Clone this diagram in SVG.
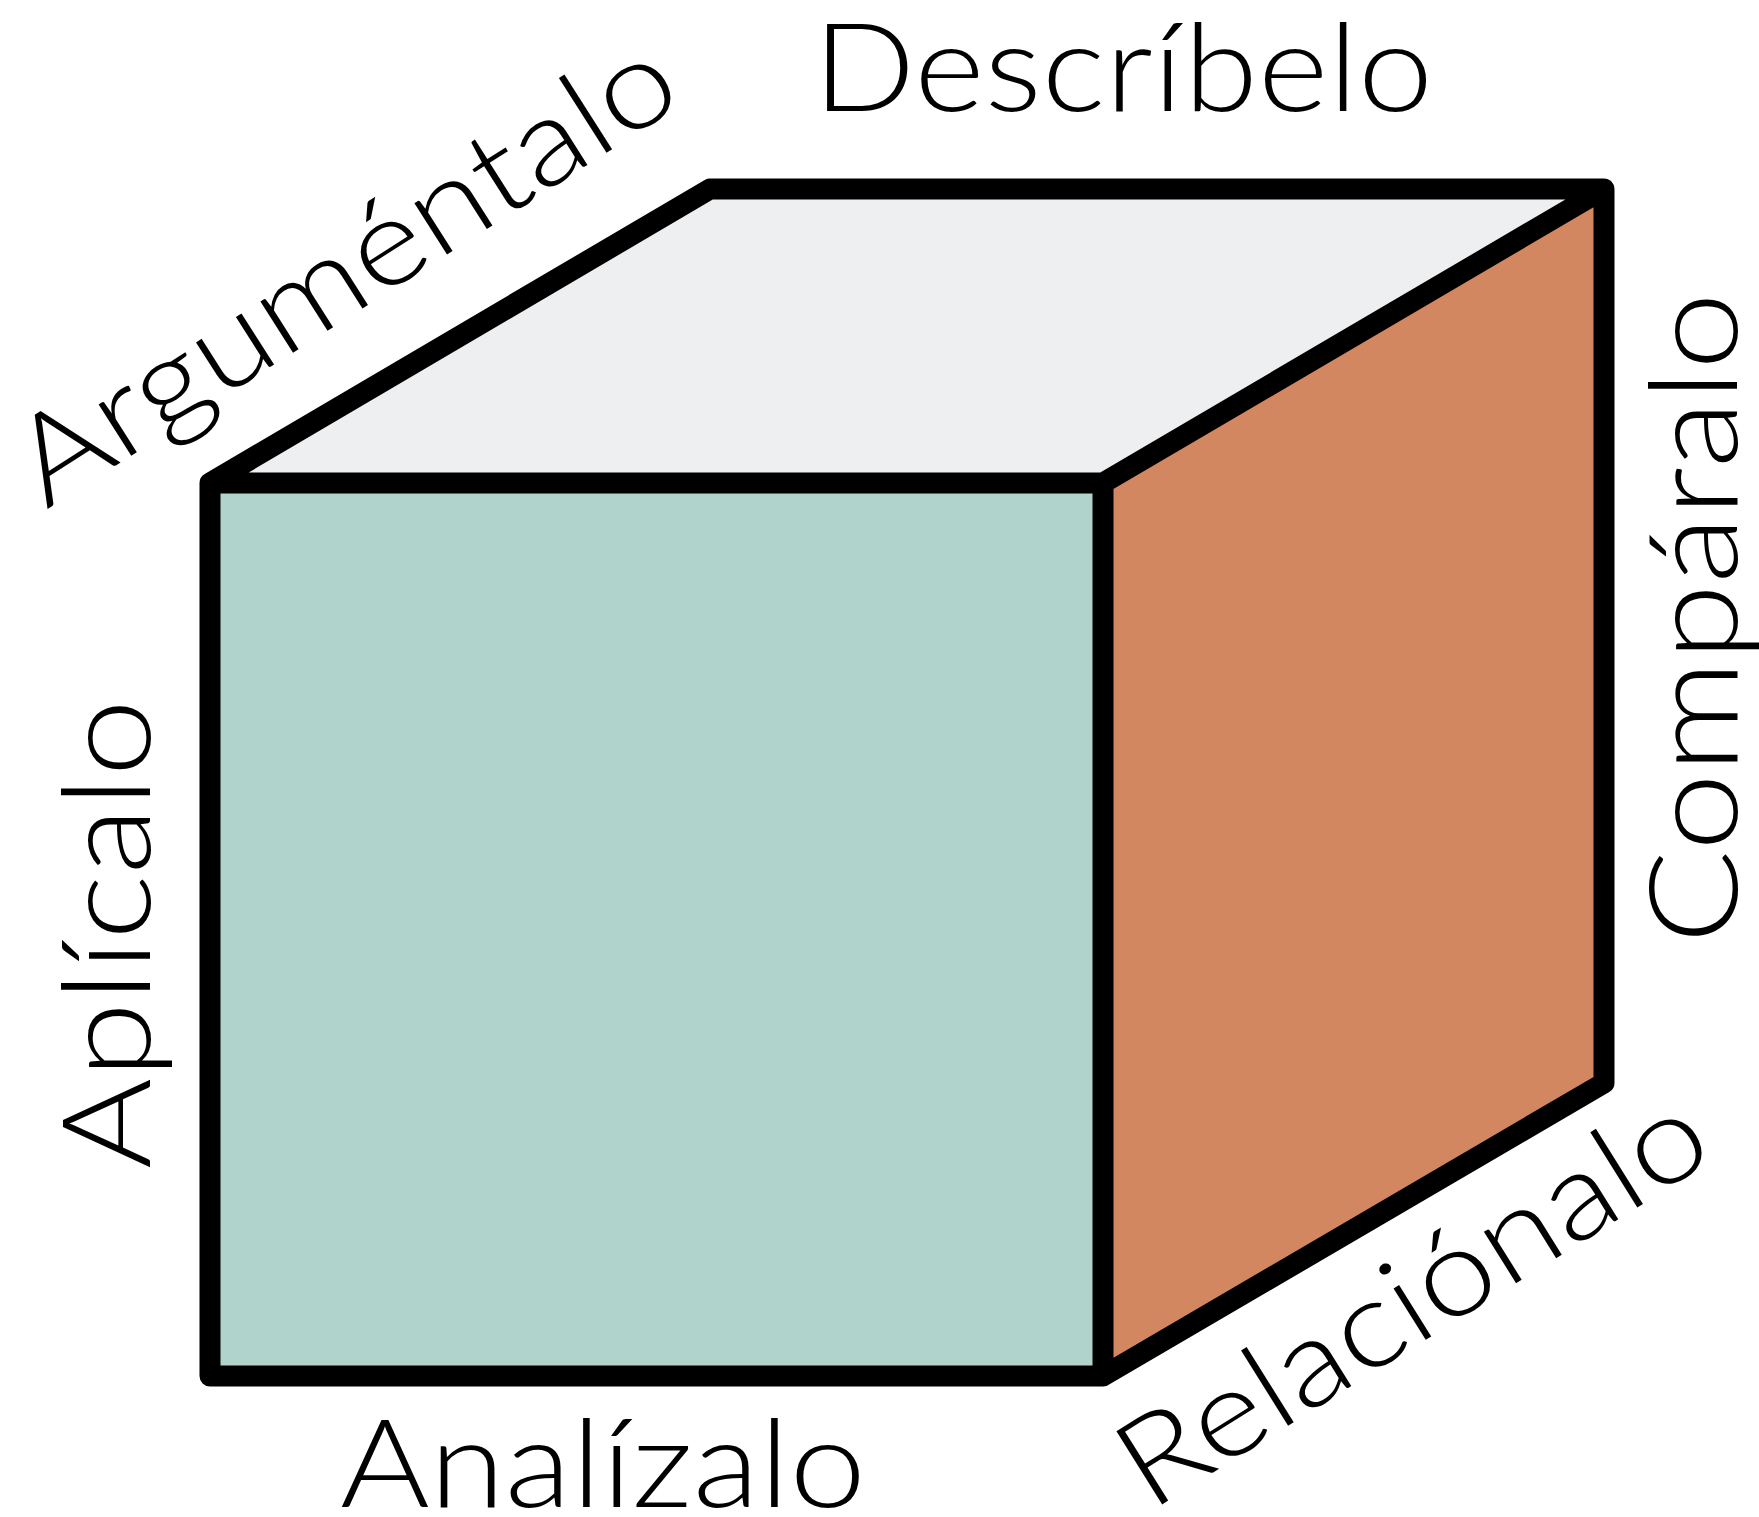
<svg xmlns="http://www.w3.org/2000/svg" width="1759" height="1517" viewBox="0 0 1759 1517">
<style>
.lbl{font-family:Lato,"Open Sans","Liberation Sans",sans-serif;font-weight:300;font-size:122px;fill:#000}
.edge{fill:none;stroke:#000;stroke-width:21;stroke-linejoin:round;stroke-linecap:round}
</style>
<rect width="1759" height="1517" fill="#fff"/>
<g id="cube">
<polygon id="top-face" points="210,483 710,189 1604,189 1103,483" fill="#EEEFF1"/>
<polygon id="front-face" points="210,483 1103,483 1103,1376 210,1376" fill="#B0D4CC"/>
<polygon id="right-face" points="1103,483 1604,189 1604,1083 1103,1376" fill="#D38761"/>
<path id="edges" class="edge" d="M210,483 L710,189 L1604,189 L1604,1083 L1103,1376 L210,1376 Z M210,483 L1103,483 L1604,189 M1103,483 L1103,1376"/>
</g>
<g id="labels">
<g id="label-describelo"><text class="lbl" x="813" y="111" textLength="620" lengthAdjust="spacingAndGlyphs">Descríbelo</text></g>
<g id="label-analizalo"><text class="lbl" x="340" y="1507" textLength="526" lengthAdjust="spacingAndGlyphs">Analízalo</text></g>
<g id="label-aplicalo"><text class="lbl" transform="translate(150,1169) rotate(-90)" textLength="470" lengthAdjust="spacingAndGlyphs">Aplícalo</text></g>
<g id="label-comparalo"><text class="lbl" transform="translate(1737,944) rotate(-90)" textLength="652" lengthAdjust="spacingAndGlyphs">Compáralo</text></g>
<g id="label-argumentalo"><text class="lbl" transform="translate(46,510) rotate(-32.5)" textLength="760" lengthAdjust="spacingAndGlyphs">Arguméntalo</text></g>
<g id="label-relacionalo"><text class="lbl" transform="translate(1150,1512) rotate(-32)" textLength="670" lengthAdjust="spacingAndGlyphs">Relaciónalo</text></g>
</g>
</svg>
